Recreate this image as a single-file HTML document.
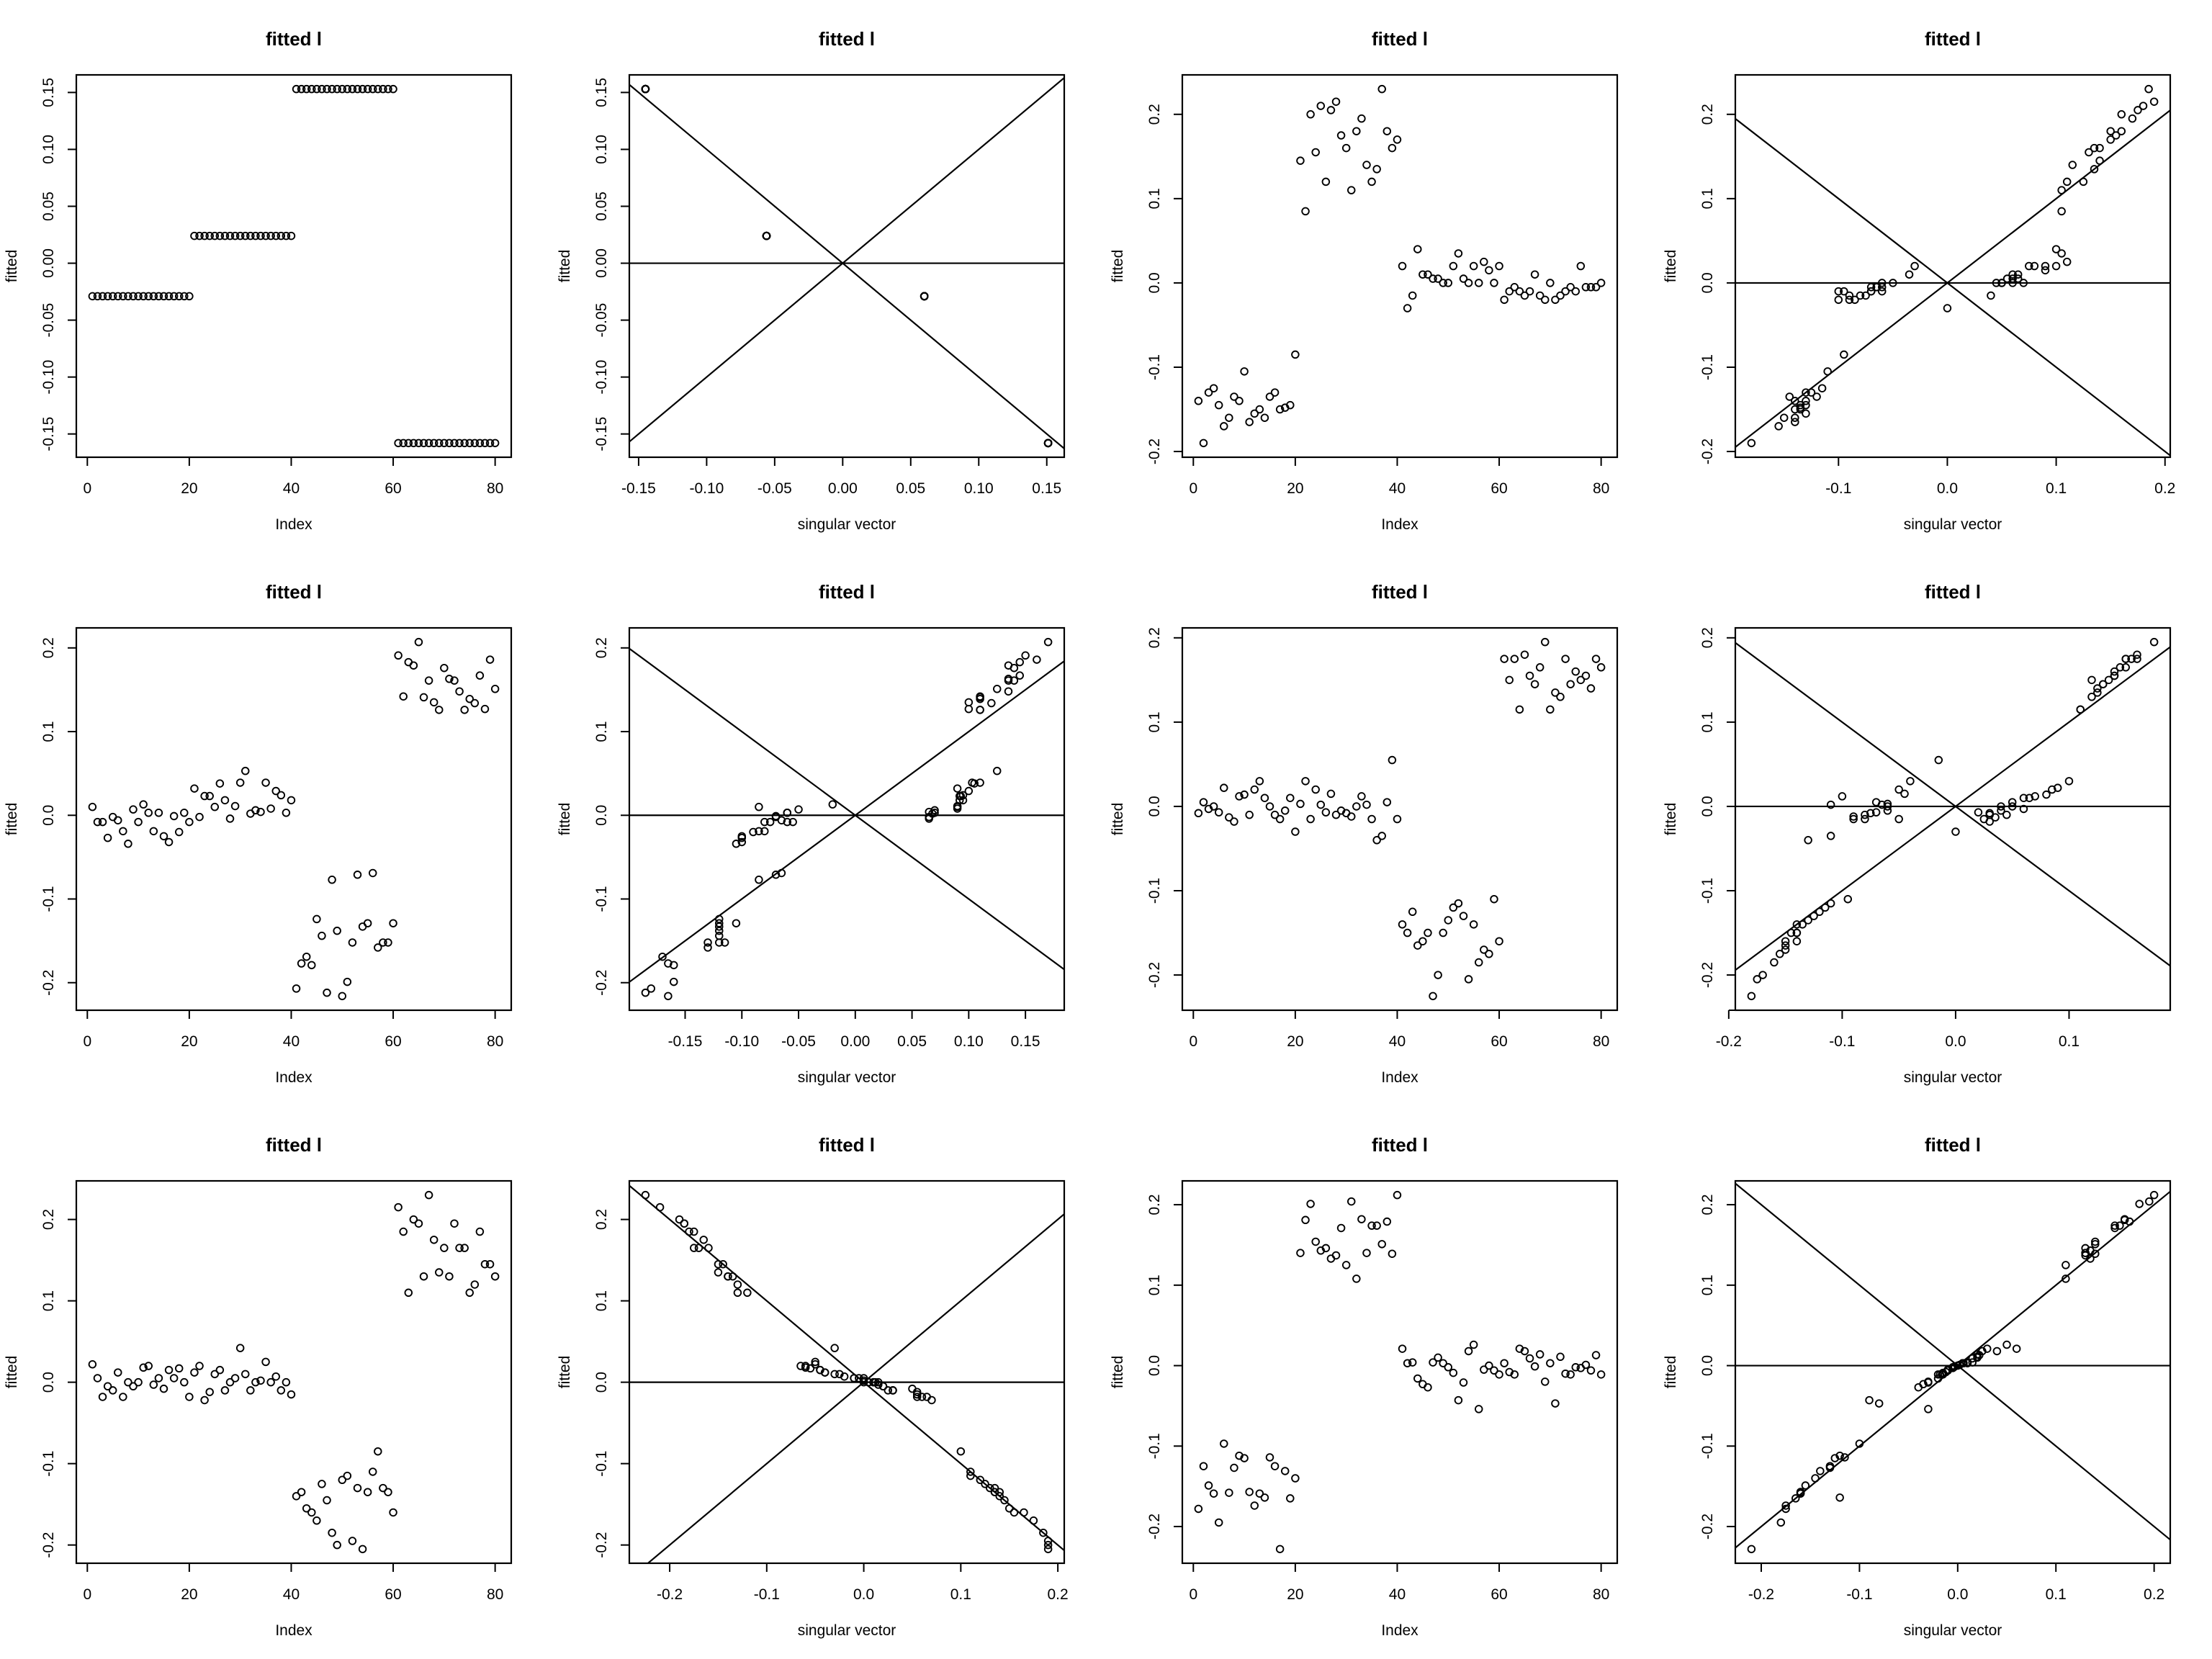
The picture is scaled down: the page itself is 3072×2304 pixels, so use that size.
<!DOCTYPE html>
<html><head><meta charset="utf-8"><title>fitted l</title>
<style>html,body{margin:0;padding:0;background:#fff;width:3072px;height:2304px;overflow:hidden}svg{display:block}text{font-family:"Liberation Sans",Arial,sans-serif;fill:#000}</style>
</head><body>
<svg id="chart" xmlns="http://www.w3.org/2000/svg" width="3072" height="2304" viewBox="0 0 3072 2304"></svg>
<script>
// ---- data (fitted values by index) ----
const fit1 = [-0.029,-0.029,-0.029,-0.029,-0.029,-0.029,-0.029,-0.029,-0.029,-0.029,-0.029,-0.029,-0.029,-0.029,-0.029,-0.029,-0.029,-0.029,-0.029,-0.029,
0.024,0.024,0.024,0.024,0.024,0.024,0.024,0.024,0.024,0.024,0.024,0.024,0.024,0.024,0.024,0.024,0.024,0.024,0.024,0.024,
0.153,0.153,0.153,0.153,0.153,0.153,0.153,0.153,0.153,0.153,0.153,0.153,0.153,0.153,0.153,0.153,0.153,0.153,0.153,0.153,
-0.158,-0.158,-0.158,-0.158,-0.158,-0.158,-0.158,-0.158,-0.158,-0.158,-0.158,-0.158,-0.158,-0.158,-0.158,-0.158,-0.158,-0.158,-0.158,-0.158];
const sv1 = [0.06,0.06,0.06,0.06,0.06,0.06,0.06,0.06,0.06,0.06,0.06,0.06,0.06,0.06,0.06,0.06,0.06,0.06,0.06,0.06,
-0.056,-0.056,-0.056,-0.056,-0.056,-0.056,-0.056,-0.056,-0.056,-0.056,-0.056,-0.056,-0.056,-0.056,-0.056,-0.056,-0.056,-0.056,-0.056,-0.056,
-0.145,-0.145,-0.145,-0.145,-0.145,-0.145,-0.145,-0.145,-0.145,-0.145,-0.145,-0.145,-0.145,-0.145,-0.145,-0.145,-0.145,-0.145,-0.145,-0.145,
0.151,0.151,0.151,0.151,0.151,0.151,0.151,0.151,0.151,0.151,0.151,0.151,0.151,0.151,0.151,0.151,0.151,0.151,0.151,0.151];

const fit2 = [-0.14,-0.19,-0.13,-0.125,-0.145,-0.17,-0.16,-0.135,-0.14,-0.105,-0.165,-0.155,-0.15,-0.16,-0.135,-0.13,-0.15,-0.148,-0.145,-0.085,
0.145,0.085,0.2,0.155,0.21,0.12,0.205,0.215,0.175,0.16,0.11,0.18,0.195,0.14,0.12,0.135,0.23,0.18,0.16,0.17,
0.02,-0.03,-0.015,0.04,0.01,0.01,0.005,0.005,0.0,0.0,0.02,0.035,0.005,0.0,0.02,0.0,0.025,0.015,0.0,0.02,
-0.02,-0.01,-0.005,-0.01,-0.015,-0.01,0.01,-0.015,-0.02,0.0,-0.02,-0.015,-0.01,-0.005,-0.01,0.02,-0.005,-0.005,-0.005,0.0];
const sv2 = [-0.14,-0.18,-0.125,-0.115,-0.135,-0.155,-0.15,-0.145,-0.13,-0.11,-0.14,-0.13,-0.135,-0.14,-0.12,-0.13,-0.14,-0.135,-0.13,-0.095,
0.14,0.105,0.16,0.13,0.18,0.125,0.175,0.19,0.155,0.14,0.105,0.15,0.17,0.115,0.11,0.135,0.185,0.16,0.135,0.15,
0.09,0.0,0.04,0.1,0.06,0.065,0.055,0.06,0.045,0.05,0.08,0.105,0.065,0.07,0.075,0.05,0.11,0.09,0.06,0.1,
-0.09,-0.07,-0.065,-0.1,-0.075,-0.095,-0.035,-0.08,-0.085,-0.06,-0.1,-0.09,-0.07,-0.065,-0.06,-0.03,-0.065,-0.06,-0.07,-0.05];

const fit3 = [0.01,-0.008,-0.008,-0.027,-0.002,-0.006,-0.019,-0.034,0.007,-0.008,0.013,0.003,-0.019,0.003,-0.025,-0.032,-0.001,-0.02,0.003,-0.008,
0.032,-0.002,0.023,0.023,0.01,0.038,0.018,-0.004,0.011,0.039,0.053,0.002,0.006,0.004,0.039,0.008,0.029,0.024,0.003,0.018,
-0.207,-0.177,-0.169,-0.179,-0.124,-0.144,-0.212,-0.077,-0.138,-0.216,-0.199,-0.152,-0.071,-0.133,-0.129,-0.069,-0.158,-0.152,-0.152,-0.129,
0.191,0.142,0.183,0.179,0.207,0.141,0.161,0.135,0.126,0.176,0.163,0.161,0.148,0.126,0.139,0.134,0.167,0.127,0.186,0.151];
const sv3 = [-0.085,-0.06,-0.055,-0.1,-0.07,-0.065,-0.085,-0.105,-0.05,-0.075,-0.02,-0.06,-0.08,-0.06,-0.1,-0.1,-0.07,-0.09,-0.06,-0.08,
0.09,0.065,0.093,0.092,0.09,0.105,0.095,0.065,0.09,0.103,0.125,0.068,0.07,0.065,0.11,0.09,0.1,0.095,0.07,0.092,
-0.18,-0.165,-0.17,-0.16,-0.12,-0.12,-0.185,-0.085,-0.12,-0.165,-0.16,-0.13,-0.07,-0.12,-0.12,-0.065,-0.13,-0.115,-0.12,-0.105,
0.15,0.11,0.145,0.135,0.17,0.11,0.135,0.1,0.11,0.14,0.135,0.14,0.135,0.11,0.11,0.12,0.145,0.1,0.16,0.125];

const fit4 = [-0.008,0.005,-0.003,0.0,-0.007,0.022,-0.013,-0.018,0.012,0.014,-0.01,0.02,0.03,0.01,0.0,-0.01,-0.015,-0.005,0.01,-0.03,
0.003,0.03,-0.015,0.02,0.002,-0.007,0.015,-0.01,-0.005,-0.008,-0.012,0.0,0.012,0.002,-0.015,-0.04,-0.035,0.005,0.055,-0.015,
-0.14,-0.15,-0.125,-0.165,-0.16,-0.15,-0.225,-0.2,-0.15,-0.135,-0.12,-0.115,-0.13,-0.205,-0.14,-0.185,-0.17,-0.175,-0.11,-0.16,
0.175,0.15,0.175,0.115,0.18,0.155,0.145,0.165,0.195,0.115,0.135,0.13,0.175,0.145,0.16,0.15,0.155,0.14,0.175,0.165];
const sv4 = [0.03,0.05,0.06,0.04,0.02,0.09,0.035,0.03,0.07,0.08,0.045,0.085,0.1,0.06,0.05,0.03,0.025,0.04,0.065,0.0,
-0.06,-0.04,-0.08,-0.05,-0.065,-0.07,-0.045,-0.08,-0.06,-0.075,-0.09,-0.06,-0.1,-0.11,-0.05,-0.13,-0.11,-0.07,-0.015,-0.09,
-0.14,-0.14,-0.12,-0.15,-0.15,-0.145,-0.18,-0.17,-0.14,-0.13,-0.115,-0.11,-0.125,-0.175,-0.135,-0.16,-0.15,-0.155,-0.095,-0.14,
0.15,0.12,0.155,0.11,0.16,0.14,0.13,0.145,0.175,0.11,0.125,0.12,0.15,0.13,0.14,0.135,0.14,0.125,0.16,0.15];

const fit5 = [0.022,0.005,-0.018,-0.005,-0.01,0.012,-0.018,0.0,-0.005,0.0,0.018,0.02,-0.003,0.005,-0.008,0.015,0.005,0.017,0.0,-0.018,
0.012,0.02,-0.022,-0.012,0.01,0.015,-0.01,0.0,0.005,0.042,0.01,-0.01,0.0,0.002,0.025,0.0,0.007,-0.01,0.0,-0.015,
-0.14,-0.135,-0.155,-0.16,-0.17,-0.125,-0.145,-0.185,-0.2,-0.12,-0.115,-0.195,-0.13,-0.205,-0.135,-0.11,-0.085,-0.13,-0.135,-0.16,
0.215,0.185,0.11,0.2,0.195,0.13,0.23,0.175,0.135,0.165,0.13,0.195,0.165,0.165,0.11,0.12,0.185,0.145,0.145,0.13];
const sv5 = [-0.05,-0.01,0.055,0.02,0.03,-0.04,0.06,0.0,0.02,0.005,-0.06,-0.065,0.015,-0.005,0.05,-0.045,0.0,-0.055,0.01,0.065,
-0.04,-0.06,0.07,0.055,-0.03,-0.045,0.03,0.005,-0.01,-0.03,-0.025,0.025,0.01,0.0,-0.05,0.012,-0.02,0.03,0.015,0.055,
0.14,0.14,0.15,0.155,0.175,0.125,0.145,0.185,0.19,0.12,0.11,0.19,0.13,0.19,0.135,0.11,0.1,0.135,0.135,0.165,
-0.21,-0.18,-0.13,-0.19,-0.185,-0.14,-0.225,-0.165,-0.15,-0.16,-0.135,-0.185,-0.17,-0.175,-0.12,-0.13,-0.175,-0.15,-0.145,-0.14];

const fit6 = [-0.178,-0.125,-0.149,-0.159,-0.195,-0.097,-0.158,-0.127,-0.112,-0.115,-0.157,-0.174,-0.159,-0.164,-0.114,-0.125,-0.228,-0.131,-0.165,-0.14,
0.14,0.181,0.201,0.154,0.143,0.146,0.133,0.137,0.171,0.125,0.204,0.108,0.182,0.14,0.174,0.174,0.151,0.179,0.139,0.212,
0.021,0.003,0.004,-0.016,-0.023,-0.027,0.004,0.01,0.003,-0.002,-0.009,-0.043,-0.021,0.018,0.026,-0.054,-0.005,0.0,-0.006,-0.011,
0.003,-0.008,-0.011,0.021,0.018,0.009,-0.001,0.014,-0.02,0.003,-0.047,0.011,-0.01,-0.011,-0.002,-0.003,0.001,-0.006,0.013,-0.011];
const sv6 = [-0.175,-0.13,-0.155,-0.16,-0.18,-0.1,-0.16,-0.13,-0.12,-0.125,-0.16,-0.175,-0.16,-0.12,-0.115,-0.13,-0.21,-0.14,-0.165,-0.145,
0.13,0.17,0.185,0.14,0.135,0.13,0.135,0.13,0.16,0.11,0.195,0.11,0.17,0.13,0.165,0.16,0.14,0.175,0.14,0.2,
0.06,0.01,0.015,-0.02,-0.035,-0.04,0.01,0.02,0.005,-0.005,-0.015,-0.09,-0.03,0.04,0.05,-0.03,-0.01,0.0,-0.01,-0.02,
0.005,-0.012,-0.015,0.03,0.025,0.015,-0.003,0.02,-0.03,0.006,-0.08,0.02,-0.015,-0.016,-0.004,-0.005,0.002,-0.01,0.022,-0.018];

// tick label arrays
const ticksIndex = [0,20,40,60,80];
const ticksY1 = [-0.15,-0.10,-0.05,0.00,0.05,0.10,0.15];
const ticksY2 = [-0.2,-0.1,0.0,0.1,0.2];
const ticksXp2 = [-0.15,-0.10,-0.05,0.00,0.05,0.10,0.15];
const ticksXp4 = [-0.1,0.0,0.1,0.2];
const ticksXp6 = [-0.15,-0.10,-0.05,0.00,0.05,0.10,0.15];
const ticksXp8 = [-0.2,-0.1,0.0,0.1];
const ticksXp10 = [-0.2,-0.1,0.0,0.1,0.2];
const ticksXp12 = [-0.2,-0.1,0.0,0.1,0.2];

const NS = 'http://www.w3.org/2000/svg';
const svg = document.getElementById('chart');
function mk(tag, attrs, parent){
  const e = document.createElementNS(NS, tag);
  for (const k in attrs) e.setAttribute(k, attrs[k]);
  (parent||svg).appendChild(e);
  return e;
}
function rng(a){let lo=Math.min.apply(null,a),hi=Math.max.apply(null,a);const d=(hi-lo)*0.04;return [lo-d,hi+d];}
function fmt(v,dec){return v.toFixed(dec);}

const L=106, R=710, T=104, B=635;
function panel(idx, ys, xs, xticks, yticks, xdec, ydec, isScatter){
  const col = idx%4, row = Math.floor(idx/4);
  const ox = col*768, oy = row*768;
  const g = mk('g', {transform:'translate('+ox+','+oy+')'});
  
  
  const xv = isScatter ? xs : ys.map((_,i)=>i+1);
  const xr = rng(xv), yr = rng(ys);
  const sx = v => L + (v-xr[0])/(xr[1]-xr[0])*(R-L);
  const sy = v => B - (v-yr[0])/(yr[1]-yr[0])*(B-T);
  const cid = 'clip'+idx;
  const cp = mk('clipPath',{id:cid},g);
  mk('rect',{x:L,y:T,width:R-L,height:B-T},cp);
  const t = mk('text',{x:(L+R)/2,y:63,'text-anchor':'middle','font-size':26,'font-weight':'bold'},g);
  t.textContent='fitted l';
  
  
  const xl = mk('text',{x:(L+R)/2,y:735,'text-anchor':'middle','font-size':21},g);
  xl.textContent = isScatter ? 'singular vector' : 'Index';
  
  
  const yl = mk('text',{x:0,y:0,'text-anchor':'middle','font-size':21,transform:'translate(23,'+((T+B)/2)+') rotate(-90)'},g);
  yl.textContent='fitted';
  
  
  const xa = mk('g',{},g);
  
  
  mk('line',{x1:sx(xticks[0]),x2:sx(xticks[xticks.length-1]),y1:B,y2:B,stroke:'#000','stroke-width':2},xa);
  xticks.forEach(v=>{
    mk('line',{x1:sx(v),x2:sx(v),y1:B,y2:B+12,stroke:'#000','stroke-width':2},xa);
    const tl = mk('text',{x:sx(v),y:685,'text-anchor':'middle','font-size':21},xa);
    tl.textContent = fmt(v,xdec);
    
    
  });
  const ya = mk('g',{},g);
  
  
  yticks.forEach(v=>{
    mk('line',{x1:L,x2:L-12,y1:sy(v),y2:sy(v),stroke:'#000','stroke-width':2},ya);
    const tl = mk('text',{x:0,y:0,'text-anchor':'middle','font-size':21,transform:'translate(74,'+sy(v)+') rotate(-90)'},ya);
    tl.textContent = fmt(v,ydec);
    
    
  });
  if (isScatter){
    const lg = mk('g',{'clip-path':'url(#'+cid+')'},g);
    
    
    const ext = 1;
    mk('line',{x1:sx(xr[0]),x2:sx(xr[1]),y1:sy(0),y2:sy(0),stroke:'#000','stroke-width':2.2},lg);
    mk('line',{x1:sx(-ext),x2:sx(ext),y1:sy(-ext),y2:sy(ext),stroke:'#000','stroke-width':2.2},lg);
    mk('line',{x1:sx(-ext),x2:sx(ext),y1:sy(ext),y2:sy(-ext),stroke:'#000','stroke-width':2.2},lg);
  }
  const pg = mk('g',{},g);
  
  
  ys.forEach((y,i)=>{
    const c = mk('circle',{cx:sx(xv[i]),cy:sy(y),r:4.8,fill:'none',stroke:'#000','stroke-width':1.9},pg);
    
    
  });
  const bx = mk('rect',{x:L,y:T,width:R-L,height:B-T,fill:'none',stroke:'#000','stroke-width':2.2},g);
  
  
}
panel(0, fit1, null, ticksIndex, ticksY1, 0, 2, false);
panel(1, fit1, sv1, ticksXp2, ticksY1, 2, 2, true);
panel(2, fit2, null, ticksIndex, ticksY2, 0, 1, false);
panel(3, fit2, sv2, ticksXp4, ticksY2, 1, 1, true);
panel(4, fit3, null, ticksIndex, ticksY2, 0, 1, false);
panel(5, fit3, sv3, ticksXp6, ticksY2, 2, 1, true);
panel(6, fit4, null, ticksIndex, ticksY2, 0, 1, false);
panel(7, fit4, sv4, ticksXp8, ticksY2, 1, 1, true);
panel(8, fit5, null, ticksIndex, ticksY2, 0, 1, false);
panel(9, fit5, sv5, ticksXp10, ticksY2, 1, 1, true);
panel(10, fit6, null, ticksIndex, ticksY2, 0, 1, false);
panel(11, fit6, sv6, ticksXp12, ticksY2, 1, 1, true);
</script>
</body></html>
